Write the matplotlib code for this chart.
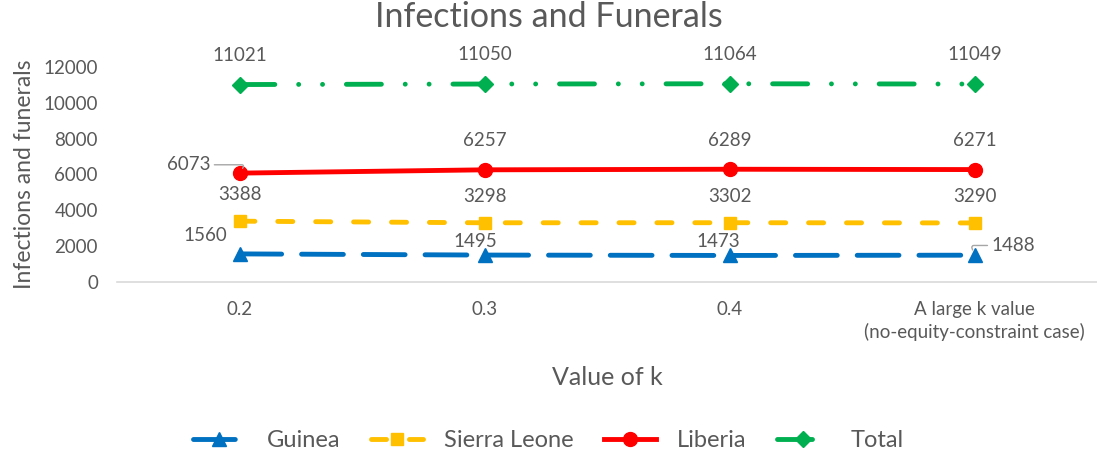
import matplotlib.pyplot as plt
import numpy as np

plt.rcParams['font.family'] = ['Lato', 'DejaVu Sans']

categories = ['0.2', '0.3', '0.4', 'A large k value\n(no-equity-constraint case)']
guinea = [1560, 1495, 1473, 1488]
sierra_leone = [3388, 3298, 3302, 3290]
liberia = [6073, 6257, 6289, 6271]
total = [11021, 11050, 11064, 11049]

TXT = '#595959'
fig = plt.figure(figsize=(10.97, 4.59), dpi=100)
ax = fig.add_axes([0.107, 0.386, 0.893, 0.468])
x = np.arange(len(categories))

LW = 3.5
lg, = ax.plot(x, guinea, color='#0070C0', lw=LW, marker='^', ms=9.5,
              dashes=(8.6, 4.1), dash_capstyle='round', label='Guinea')
ls, = ax.plot(x, sierra_leone, color='#FFC000', lw=LW, marker='s', ms=8.5,
              dashes=(3.1, 4.7), dash_capstyle='round', label='Sierra Leone')
ll, = ax.plot(x, liberia, color='#FF0000', lw=LW, marker='o', ms=10, label='Liberia')
lt, = ax.plot(x, total, color='#00B050', lw=LW, marker='D', ms=8,
              dashes=(7.2, 4.9, 0.01, 4.9, 0.01, 4.9), dash_capstyle='round', label='Total')

fs = 13.5
def lab(xi, yi, val, dx, dy, line=False, conn='angle,angleA=0,angleB=60,rad=3'):
    kw = dict(textcoords='offset points', ha='center', va='center', fontsize=fs, color=TXT)
    if line:
        kw['arrowprops'] = dict(arrowstyle='-', color='#A6A6A6', lw=1,
                                shrinkA=1, shrinkB=4, connectionstyle=conn)
    ax.annotate(str(val), (xi, yi), xytext=(dx, dy), **kw)

for i, v in enumerate(total):
    lab(x[i], v, v, 0, 21)
for i, v in enumerate(liberia):
    if i == 0:
        lab(x[i], v, v, -37, 6, line=True)
    else:
        lab(x[i], v, v, 0, 21)
for i, v in enumerate(sierra_leone):
    lab(x[i], v, v, 0, 19)
g_off = [(-25, 13), (-7, 10), (-8, 10), (28, 7)]
for i, v in enumerate(guinea):
    lab(x[i], v, v, g_off[i][0], g_off[i][1], line=(i == 3),
        conn='angle,angleA=180,angleB=-70,rad=3')

ax.set_xlim(-0.5, 3.5)
ax.set_ylim(0, 12000)
ax.set_yticks(np.arange(0, 12001, 2000))
ax.set_xticks(x)
ax.set_xticklabels(categories, fontsize=13.5, color=TXT, linespacing=1.3)
ax.tick_params(axis='y', labelsize=13.5, labelcolor=TXT, length=0, pad=14)
ax.tick_params(axis='x', length=0, pad=14)
for s in ['top', 'right', 'left']:
    ax.spines[s].set_visible(False)
ax.spines['bottom'].set_color('#D9D9D9')
ax.spines['bottom'].set_linewidth(1.2)

fig.text(0.5, 0.962, 'Infections and Funerals', fontsize=24.5, color=TXT,
         ha='center', va='center')
ax.set_ylabel('Infections and funerals', fontsize=16.5, color=TXT, labelpad=6)
ax.set_xlabel('Value of k', fontsize=18, color=TXT, labelpad=18)

fig.legend(handles=[lg, ls, ll, lt], loc='center', bbox_to_anchor=(0.5, 0.04), ncol=4,
           frameon=False, fontsize=17, labelcolor=TXT, handlelength=2.2, columnspacing=1.3,
           handletextpad=0.9)

fig.savefig('out.png', dpi=100)
